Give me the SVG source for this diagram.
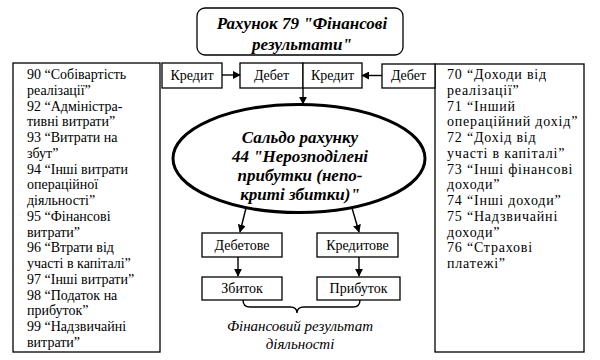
<svg xmlns="http://www.w3.org/2000/svg" width="600" height="360" viewBox="0 0 600 360">
<defs>
<marker id="ah" viewBox="0 0 10 10" refX="9" refY="5" markerWidth="8" markerHeight="8" markerUnits="userSpaceOnUse" orient="auto">
<path d="M0,0 L10,5 L0,10 z" fill="#000"/>
</marker>
</defs>
<style>
.box{fill:#fff;stroke:#000;stroke-width:1.3}
text{font-family:'Liberation Serif','Times New Roman','DejaVu Serif',serif}
.lst{font-size:14px;fill:#000}
.lbl{font-size:14px;fill:#000;text-anchor:middle}
.bi{font-size:17px;font-weight:bold;font-style:italic;fill:#000;text-anchor:middle}
.it{font-size:15px;font-style:italic;fill:#000;text-anchor:middle}
.con{fill:none;stroke:#000;stroke-width:1.4}
</style>
<rect width="600" height="360" fill="#fff"/>

<g id="title">
<rect x="197" y="8" width="206" height="47" rx="8" class="box" stroke-width="1.6"/>
<text class="bi" x="302" y="29" font-size="18">Рахунок 79 "Фінансові</text>
<text class="bi" x="302" y="50" font-size="18">результати"</text>
</g>

<g id="left-list">
<rect x="13" y="63" width="147" height="289" class="box"/>
<text class="lst" x="27" y="79">
<tspan x="27" dy="0">90 “Собівартість</tspan>
<tspan x="27" dy="15.75">реалізації”</tspan>
<tspan x="27" dy="15.75">92 “Адміністра-</tspan>
<tspan x="27" dy="15.75">тивні витрати”</tspan>
<tspan x="27" dy="15.75">93 “Витрати на</tspan>
<tspan x="27" dy="15.75">збут”</tspan>
<tspan x="27" dy="15.75">94 “Інші витрати</tspan>
<tspan x="27" dy="15.75">операційної</tspan>
<tspan x="27" dy="15.75">діяльності”</tspan>
<tspan x="27" dy="15.75">95 “Фінансові</tspan>
<tspan x="27" dy="15.75">витрати”</tspan>
<tspan x="27" dy="15.75">96 “Втрати від</tspan>
<tspan x="27" dy="15.75">участі в капіталі”</tspan>
<tspan x="27" dy="15.75">97 “Інші витрати”</tspan>
<tspan x="27" dy="15.75">98 “Податок на</tspan>
<tspan x="27" dy="15.75">прибуток”</tspan>
<tspan x="27" dy="15.75">99 “Надзвичайні</tspan>
<tspan x="27" dy="15.75">витрати”</tspan>
</text>
</g>

<g id="right-list">
<rect x="435" y="64" width="149" height="288" class="box"/>
<text class="lst" x="447" y="79" letter-spacing="0.8">
<tspan x="447" dy="0">70 “Доходи від</tspan>
<tspan x="447" dy="15.75">реалізації”</tspan>
<tspan x="447" dy="15.75">71 “Інший</tspan>
<tspan x="447" dy="15.75">операційний дохід”</tspan>
<tspan x="447" dy="15.75">72 “Дохід від</tspan>
<tspan x="447" dy="15.75">участі в капіталі”</tspan>
<tspan x="447" dy="15.75">73 “Інші фінансові</tspan>
<tspan x="447" dy="15.75">доходи”</tspan>
<tspan x="447" dy="15.75">74 “Інші доходи”</tspan>
<tspan x="447" dy="15.75">75 “Надзвичайні</tspan>
<tspan x="447" dy="15.75">доходи”</tspan>
<tspan x="447" dy="15.75">76 “Страхові</tspan>
<tspan x="447" dy="15.75">платежі”</tspan>
</text>
</g>

<g id="credit-left">
<rect x="162" y="63" width="60" height="25" class="box"/>
<text class="lbl" x="192" y="80">Кредит</text>
</g>
<g id="debit-center">
<rect x="240" y="63" width="63" height="25" class="box"/>
<text class="lbl" x="271.5" y="80">Дебет</text>
</g>
<g id="credit-center">
<rect x="303" y="63" width="59" height="25" class="box"/>
<text class="lbl" x="332.5" y="80">Кредит</text>
</g>
<g id="debit-right">
<rect x="382" y="64" width="53" height="24" class="box"/>
<text class="lbl" x="408.5" y="80">Дебет</text>
</g>

<g id="balance">
<ellipse cx="299" cy="158.5" rx="126" ry="54" fill="#fff" stroke="#000" stroke-width="3"/>
<text class="bi" x="300" y="143">Сальдо рахунку</text>
<text class="bi" x="300" y="162" font-size="17.5">44 "Нерозподілені</text>
<text class="bi" x="300" y="181" font-size="17.5">прибутки (непо-</text>
<text class="bi" x="300" y="200" font-size="17.5">криті збитки)"</text>
</g>

<g id="debit-balance">
<rect x="202" y="233" width="80" height="24" class="box"/>
<text class="lbl" x="242" y="250">Дебетове</text>
</g>
<g id="credit-balance">
<rect x="317" y="233" width="81" height="24" class="box"/>
<text class="lbl" x="357.5" y="250">Кредитове</text>
</g>
<g id="loss">
<rect x="202" y="277" width="80" height="23" class="box"/>
<text class="lbl" x="242" y="293">Збиток</text>
</g>
<g id="profit">
<rect x="317" y="277" width="83" height="23" class="box"/>
<text class="lbl" x="358.5" y="293">Прибуток</text>
</g>

<g id="result-label">
<text class="it" x="300" y="331">Фінансовий результат</text>
<text class="it" x="300" y="349">діяльності</text>
</g>

<g id="connectors">
<line x1="222" y1="75" x2="240" y2="75" class="con" marker-end="url(#ah)"/>
<line x1="382" y1="75.5" x2="362" y2="75.5" class="con" marker-end="url(#ah)"/>
<line x1="303" y1="88" x2="303" y2="104" class="con" marker-end="url(#ah)"/>
<line x1="246" y1="208" x2="240" y2="232" class="con" marker-end="url(#ah)"/>
<line x1="352" y1="208" x2="359" y2="232" class="con" marker-end="url(#ah)"/>
<line x1="238" y1="257" x2="238" y2="276" class="con" marker-end="url(#ah)"/>
<line x1="359" y1="257" x2="359" y2="276" class="con" marker-end="url(#ah)"/>
<path d="M243,300 Q243,307 250,307 L290,307 Q297,307 297,313 Q297,307 304,307 L353,307 Q360,307 360,300" class="con" stroke-width="1.2"/>
</g>
</svg>
